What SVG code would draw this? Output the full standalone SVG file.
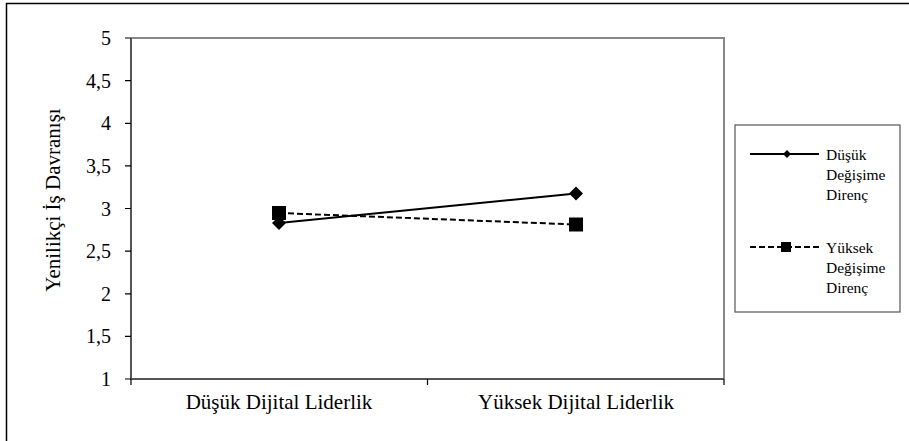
<svg xmlns="http://www.w3.org/2000/svg" width="909" height="441" viewBox="0 0 909 441">
<defs>
<style>
.ax{stroke:#000;stroke-width:1.2;fill:none}
</style>
</defs>
<rect width="909" height="441" fill="#fff"/>
<path d="M6.5,441 V3.5 H909" fill="none" stroke="#000" stroke-width="1.5"/>
<g id="plot-area">
<path d="M131,38 H724 V379" fill="none" stroke="#888" stroke-width="2"/>
<path d="M131,38 V379 H724" fill="none" stroke="#555" stroke-width="2"/>
<g class="ax">
<path d="M125,38H131M125,80.6H131M125,123.3H131M125,165.9H131M125,208.5H131M125,251.1H131M125,293.8H131M125,336.4H131M125,379H131"/>
<path d="M131,379V385M427.5,379V385M724,379V385"/>
</g>
</g>
<g id="y-labels">
<text font-family="Liberation Serif" font-size="20" text-anchor="end" x="111" y="45">5</text>
<text font-family="Liberation Serif" font-size="20" text-anchor="end" x="111" y="87.6">4,5</text>
<text font-family="Liberation Serif" font-size="20" text-anchor="end" x="111" y="130.3">4</text>
<text font-family="Liberation Serif" font-size="20" text-anchor="end" x="111" y="172.9">3,5</text>
<text font-family="Liberation Serif" font-size="20" text-anchor="end" x="111" y="215.5">3</text>
<text font-family="Liberation Serif" font-size="20" text-anchor="end" x="111" y="258.1">2,5</text>
<text font-family="Liberation Serif" font-size="20" text-anchor="end" x="111" y="300.8">2</text>
<text font-family="Liberation Serif" font-size="20" text-anchor="end" x="111" y="343.4">1,5</text>
<text font-family="Liberation Serif" font-size="20" text-anchor="end" x="111" y="386">1</text>
</g>
<g id="y-title"><text font-family="Liberation Serif" font-size="21" text-anchor="middle" transform="translate(60,200) rotate(-90)">Yenilikçi İş Davranışı</text></g>
<g id="x-labels">
<text font-family="Liberation Serif" font-size="21" text-anchor="middle" x="279" y="409">Düşük Dijital Liderlik</text>
<text font-family="Liberation Serif" font-size="21" text-anchor="middle" x="576" y="409">Yüksek Dijital Liderlik</text>
</g>
<g id="connectors">
<line x1="279" y1="223" x2="576" y2="193.5" stroke="#000" stroke-width="2"/>
<line x1="279" y1="213" x2="576" y2="224.5" stroke="#000" stroke-width="2" stroke-dasharray="6,3"/>
</g>
<g id="series-low">
<polygon points="279,216 286,223 279,230 272,223" fill="#000"/>
<polygon points="576,186.5 583,193.5 576,200.5 569,193.5" fill="#000"/>
</g>
<g id="series-high">
<rect x="272" y="206" width="14" height="14" fill="#000"/>
<rect x="569" y="217.5" width="14" height="14" fill="#000"/>
</g>
<g id="legend">
<rect x="735" y="125" width="165" height="187" fill="#fff" stroke="#555" stroke-width="1.2"/>
<line x1="750" y1="154" x2="819" y2="154" stroke="#000" stroke-width="2"/>
<polygon points="787,150 791,154 787,158 783,154" fill="#000"/>
<text font-family="Liberation Serif" font-size="15.5" x="826" y="159.5">Düşük</text>
<text font-family="Liberation Serif" font-size="15.5" x="826" y="180">Değişime</text>
<text font-family="Liberation Serif" font-size="15.5" x="826" y="200">Direnç</text>
<line x1="750" y1="247" x2="819" y2="247" stroke="#000" stroke-width="2" stroke-dasharray="6,3"/>
<rect x="781" y="242" width="10" height="10" fill="#000"/>
<text font-family="Liberation Serif" font-size="15.5" x="826" y="253">Yüksek</text>
<text font-family="Liberation Serif" font-size="15.5" x="826" y="273">Değişime</text>
<text font-family="Liberation Serif" font-size="15.5" x="826" y="293">Direnç</text>
</g>
</svg>
